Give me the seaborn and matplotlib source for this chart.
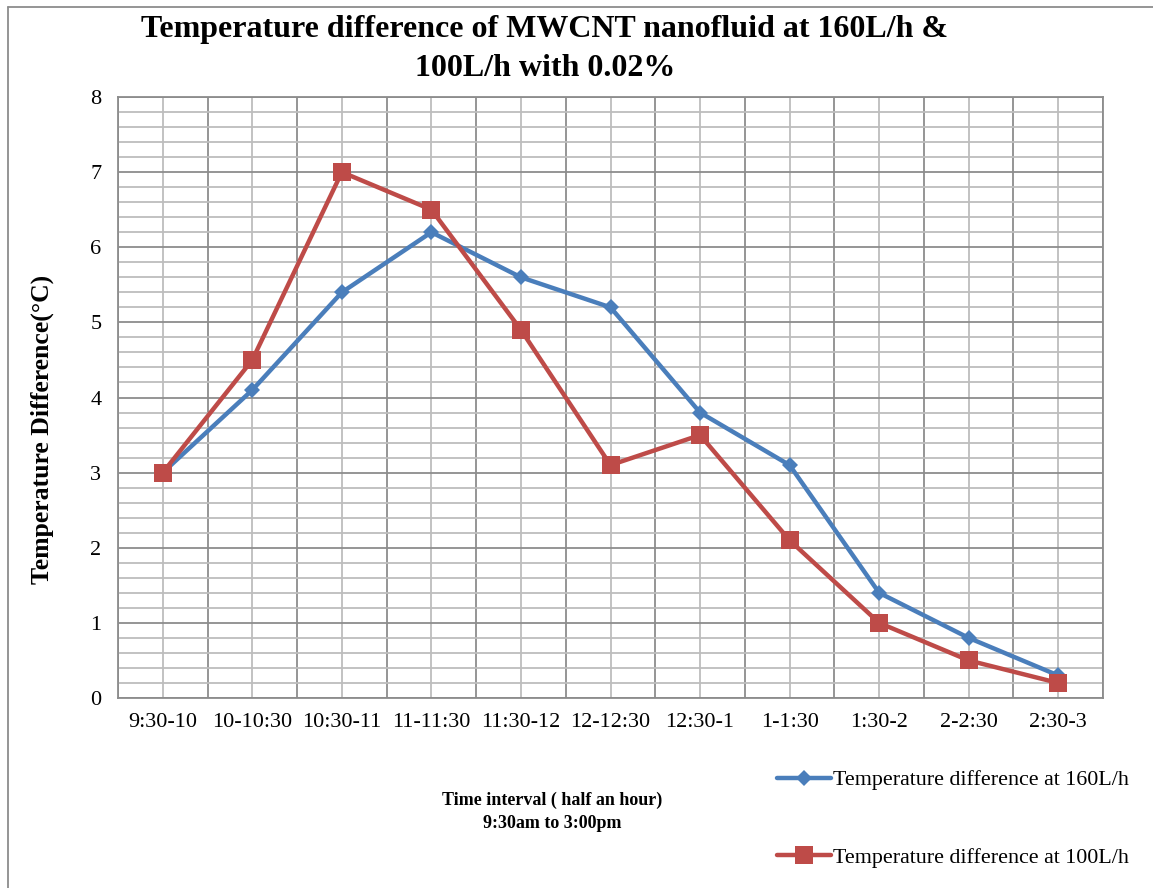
import numpy as np
import pandas as pd
import matplotlib.pyplot as plt
import seaborn as sns
from matplotlib.ticker import MultipleLocator, FixedLocator
from matplotlib.lines import Line2D

# data
intervals = ["9:30-10", "10-10:30", "10:30-11", "11-11:30", "11:30-12", "12-12:30",
             "12:30-1", "1-1:30", "1:30-2", "2-2:30", "2:30-3"]
diff_160 = [3.0, 4.1, 5.4, 6.2, 5.6, 5.2, 3.8, 3.1, 1.4, 0.8, 0.3]
diff_100 = [3.0, 4.5, 7.0, 6.5, 4.9, 3.1, 3.5, 2.1, 1.0, 0.5, 0.2]
label_160 = "Temperature difference at 160L/h"
label_100 = "Temperature difference at 100L/h"

sns.set_style("white")
plt.rcParams['font.family'] = ['Liberation Serif', 'DejaVu Serif']
plt.rcParams['text.color'] = 'black'
plt.rcParams['xtick.color'] = 'black'
plt.rcParams['ytick.color'] = 'black'
plt.rcParams['axes.labelcolor'] = 'black'

fig = plt.figure(figsize=(11.53, 8.88), dpi=100)
ax = fig.add_axes([118/1153, 1-698/888, 985/1153, 601/888])

pos = np.arange(len(intervals))
df = pd.DataFrame({"pos": pos, "d160": diff_160, "d100": diff_100})

sns.lineplot(data=df, x="pos", y="d160", ax=ax, color="#4a7ebb", lw=3.2,
             marker="D", markersize=8, markeredgewidth=0, label=label_160, zorder=3)
sns.lineplot(data=df, x="pos", y="d100", ax=ax, color="#be4b48", lw=3.2,
             marker="s", markersize=13, markeredgewidth=0, label=label_100, zorder=4)

ax.set_xlim(-0.5, len(intervals) - 0.5)
ax.set_ylim(0, 8)

# x: boundaries as major (gridlines+ticks), centers as minor (labels)
ax.xaxis.set_major_locator(FixedLocator(np.arange(-0.5, len(intervals), 1.0)))
ax.set_xticklabels([""] * (len(intervals) + 1))
ax.set_xticks(pos, minor=True)
ax.set_xticklabels(intervals, minor=True, fontsize=16)
ax.tick_params(axis="x", which="major", length=5, width=1.2, color="#888888", direction="out")
ax.tick_params(axis="x", which="minor", length=0, pad=11)

ax.yaxis.set_major_locator(MultipleLocator(1))
ax.yaxis.set_minor_locator(MultipleLocator(0.2))
ax.tick_params(axis="y", which="major", length=5, width=1.2, color="#888888",
               direction="out", labelsize=16, pad=7)
ax.tick_params(axis="y", which="minor", length=0)

ax.grid(True, which="major", color="#8c8c8c", lw=1.3)
ax.grid(True, which="minor", color="#bdbdbd", lw=1.3)
ax.set_axisbelow(True)
for side in ax.spines:
    ax.spines[side].set_color("#8c8c8c")
    ax.spines[side].set_linewidth(1.3)

ax.set_xlabel("")
ax.set_ylabel("")
fig.text(42/1153, 1-429/888, "Temperature Difference(°C)", rotation=90,
         ha="center", va="center", fontsize=18.5, fontweight="bold")

fig.text(545/1153, 1-30/888, "Temperature difference of MWCNT nanofluid at 160L/h &",
         ha="center", va="center", fontsize=23, fontweight="bold")
fig.text(545/1153, 1-68/888, "100L/h with 0.02%",
         ha="center", va="center", fontsize=23, fontweight="bold")
fig.text(552/1153, 1-800/888, "Time interval ( half an hour)",
         ha="center", va="center", fontsize=13, fontweight="bold")
fig.text(552/1153, 1-823/888, "9:30am to 3:00pm",
         ha="center", va="center", fontsize=13, fontweight="bold")

ax.get_legend().remove()
handles = [Line2D([], [], color="#4a7ebb", lw=3.2, marker="D", markersize=8, markeredgewidth=0),
           Line2D([], [], color="#be4b48", lw=3.2, marker="s", markersize=13, markeredgewidth=0)]
fig.legend(handles, [label_160, label_100], loc="upper left",
           bbox_to_anchor=(766/1153, 1-759/888), frameon=False, fontsize=15.8,
           handlelength=2.45, handletextpad=0.1, labelspacing=2.6, borderpad=0)

# outer chart border
fig.add_artist(Line2D([8/1153, 8/1153], [0, 1-7/888], color="#8c8c8c", lw=1.3))
fig.add_artist(Line2D([8/1153, 1], [1-7/888, 1-7/888], color="#8c8c8c", lw=1.3))

fig.savefig("out.png", dpi=100)
